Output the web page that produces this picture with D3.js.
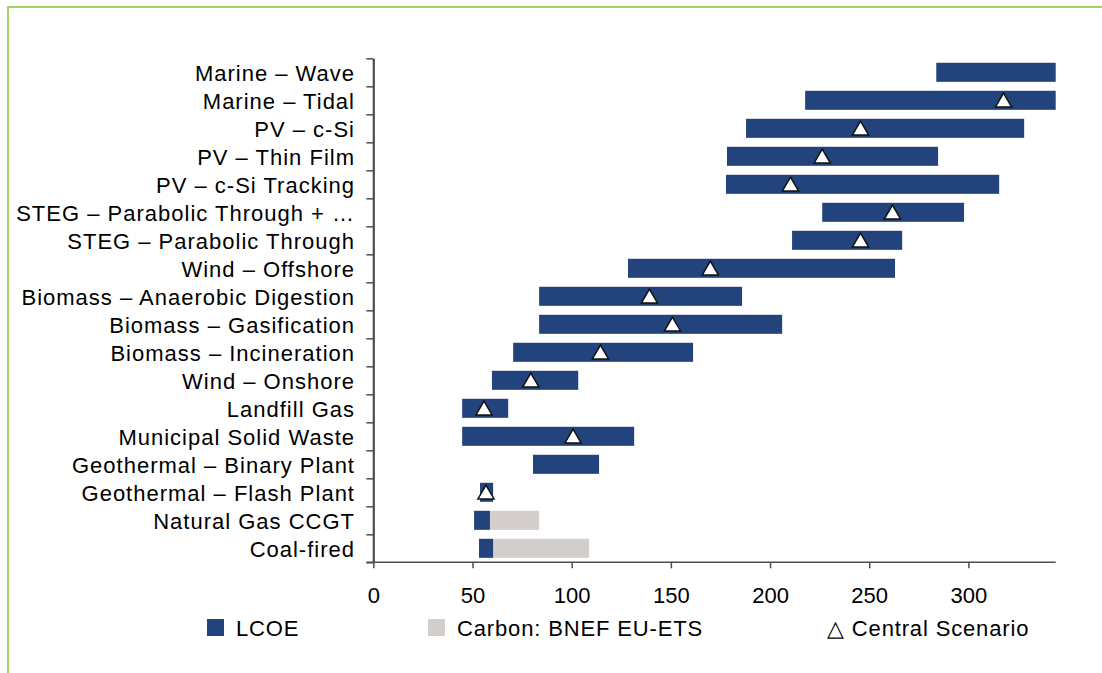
<!DOCTYPE html>
<html>
<head>
<meta charset="utf-8">
<script src="https://cdn.jsdelivr.net/npm/d3@7"></script>
<style>
    html, body { margin: 0; padding: 0; background: #fff; }
    svg { display: block; font-family: "Liberation Sans", Arial, sans-serif; }
    .label { font-size: 22px; letter-spacing: 1px; fill: #000; }
    .xaxis text { font-size: 22px; fill: #000; font-family: "Liberation Sans", Arial, sans-serif; }
    .legend text { font-size: 22px; letter-spacing: 0.85px; fill: #000; }
</style>
</head>
<body>
<svg width="1102" height="673"></svg>
<script>
// data, top to bottom
var categories = [
    'Marine \u2013 Wave',
    'Marine \u2013 Tidal',
    'PV \u2013 c-Si',
    'PV \u2013 Thin Film',
    'PV \u2013 c-Si Tracking',
    'STEG \u2013 Parabolic Through + \u2026',
    'STEG \u2013 Parabolic Through',
    'Wind \u2013 Offshore',
    'Biomass \u2013 Anaerobic Digestion',
    'Biomass \u2013 Gasification',
    'Biomass \u2013 Incineration',
    'Wind \u2013 Onshore',
    'Landfill Gas',
    'Municipal Solid Waste',
    'Geothermal \u2013 Binary Plant',
    'Geothermal \u2013 Flash Plant',
    'Natural Gas CCGT',
    'Coal-fired'
];
var lcoeLow  = [283.8, 217.7, 187.9, 178.3, 177.8, 226.3, 211.1, 128.4, 83.6, 83.6, 70.5, 59.8, 44.8, 44.8, 80.5, 53.8, 50.8, 53.3];
var lcoeHigh = [350, 350, 328.1, 284.7, 315.5, 297.8, 266.6, 263.0, 185.9, 206.1, 161.2, 103.3, 68.0, 131.5, 113.8, 60.4, 58.8, 60.4];
var central  = [null, 317.7, 245.6, 226.3, 210.3, 261.7, 245.6, 169.9, 139.2, 150.8, 114.5, 79.4, 55.8, 100.7, null, 56.8, null, null];
var carbonHigh = [null, null, null, null, null, null, null, null, null, null, null, null, null, null, null, null, 83.6, 108.8];
var xTicks = [0, 50, 100, 150, 200, 250, 300];
var legendItems = ['LCOE', 'Carbon: BNEF EU-ETS', '\u25B3 Central Scenario'];

var colors = { lcoe: '#22437b', carbon: '#d3cecb', axis: '#4d4d4d', frame: '#a2d266' };

var dom = {};

function initialize() {
    dom.svg = d3.select('svg');
    drawFrame();
    buildScales();
    drawBars();
    drawAxes();
    drawLegend();
}

function drawFrame() {
    dom.svg.append('path')
        .attr('d', 'M8,673 V7 H1102')
        .attr('fill', 'none')
        .attr('stroke', colors.frame)
        .attr('stroke-width', 2);
}

function buildScales() {
    dom.x = d3.scaleLinear().domain([0, 344]).range([373.3, 1055.7]);
    dom.y = d3.scaleBand().domain(categories).range([58.3, 562.3])
        .paddingInner(0.32).paddingOuter(0.16);
    dom.rows = categories.map(function(c, i) {
        return { name: c, lo: lcoeLow[i], hi: lcoeHigh[i], mid: central[i], carbon: carbonHigh[i] };
    });
}

function drawBars() {
    var x = dom.x, y = dom.y;
    dom.svg.append('clipPath').attr('id', 'plotClip')
        .append('rect')
        .attr('x', x.range()[0]).attr('y', 0)
        .attr('width', x.range()[1] - x.range()[0]).attr('height', 673);

    var g = dom.svg.append('g').attr('clip-path', 'url(#plotClip)');

    g.selectAll('.carbon')
            .data(dom.rows.filter(function(d) { return d.carbon != null; }))
        .enter().append('rect')
            .attr('fill', colors.carbon)
            .attr('x', function(d) { return x(d.hi); })
            .attr('y', function(d) { return y(d.name); })
            .attr('width', function(d) { return x(d.carbon) - x(d.hi); })
            .attr('height', y.bandwidth());

    g.selectAll('.lcoe')
            .data(dom.rows)
        .enter().append('rect')
            .attr('fill', colors.lcoe)
            .attr('x', function(d) { return x(d.lo); })
            .attr('y', function(d) { return y(d.name); })
            .attr('width', function(d) { return x(d.hi) - x(d.lo); })
            .attr('height', y.bandwidth());

    var tri = d3.symbol().type(d3.symbolTriangle).size(112);
    g.selectAll('.central')
            .data(dom.rows.filter(function(d) { return d.mid != null; }))
        .enter().append('path')
            .attr('d', tri)
            .attr('fill', '#fff')
            .attr('stroke', '#111')
            .attr('stroke-width', 1.5)
            .attr('transform', function(d) {
                return 'translate(' + x(d.mid) + ',' + (y(d.name) + y.bandwidth() / 2 + 2) + ')';
            });
}

function drawAxes() {
    var x = dom.x, y = dom.y;

    // x axis
    var xa = dom.svg.append('g').attr('class', 'xaxis')
        .attr('transform', 'translate(0,562.3)')
        .call(d3.axisBottom(x).tickValues(xTicks).tickSize(6).tickPadding(19).tickSizeOuter(0));
    xa.select('.domain').remove();
    xa.selectAll('.tick line').attr('stroke', colors.axis).attr('stroke-width', 1.5);
    dom.svg.append('line')
        .attr('x1', 366.5).attr('x2', x.range()[1])
        .attr('y1', 562.3).attr('y2', 562.3)
        .attr('stroke', colors.axis).attr('stroke-width', 1.5);

    // y axis with ticks on the band edges
    var edges = d3.scaleLinear().domain([0, categories.length]).range([58.3, 562.3]);
    var ya = dom.svg.append('g')
        .attr('transform', 'translate(373.3,0)')
        .call(d3.axisLeft(edges).tickValues(d3.range(categories.length + 1))
            .tickSize(7).tickSizeOuter(0).tickFormat(''));
    ya.select('.domain').attr('stroke', colors.axis).attr('stroke-width', 2.2);
    ya.selectAll('.tick line').attr('stroke', colors.axis).attr('stroke-width', 1.5);

    dom.svg.append('g').selectAll('.label')
            .data(categories)
        .enter().append('text')
            .attr('class', 'label')
            .attr('text-anchor', 'end')
            .attr('x', 355)
            .attr('y', function(d) { return y(d) + y.bandwidth() / 2 + 8.5; })
            .text(function(d) { return d; });
}

function drawLegend() {
    var lg = dom.svg.append('g').attr('class', 'legend');
    var pos = [207, 428, 827];
    var swatch = [colors.lcoe, colors.carbon, null];

    legendItems.forEach(function(t, i) {
        if (swatch[i]) {
            lg.append('rect')
                .attr('x', pos[i]).attr('y', 619)
                .attr('width', 17).attr('height', 17)
                .attr('fill', swatch[i]);
            lg.append('text').attr('x', pos[i] + 29).attr('y', 636).text(t);
        } else {
            lg.append('text').attr('x', pos[i]).attr('y', 636).text(t);
        }
    });
}

initialize();
</script>
</body>
</html>
